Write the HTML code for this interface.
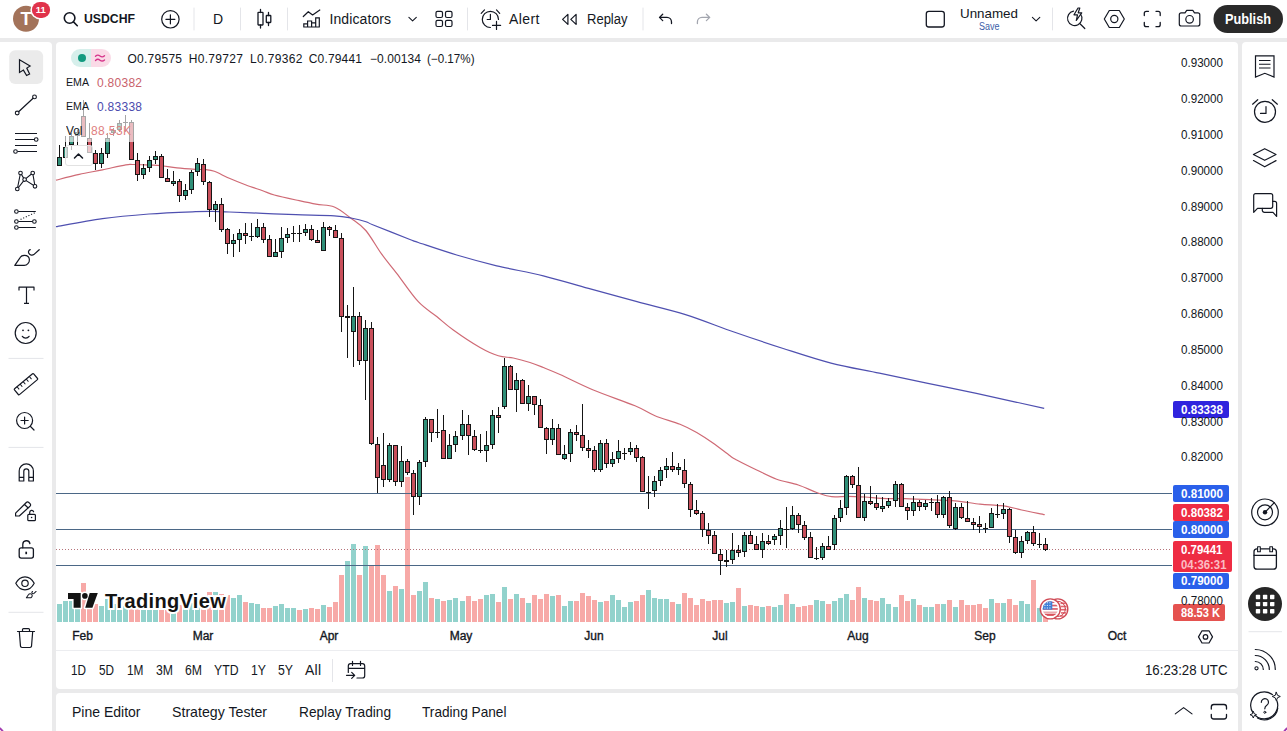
<!DOCTYPE html>
<html lang="en"><head><meta charset="utf-8"><title>USDCHF chart</title>
<style>
html,body{margin:0;padding:0}
body{width:1287px;height:731px;position:relative;overflow:hidden;background:#eaeaeb;font-family:"Liberation Sans",sans-serif;color:#131722}
.abs{position:absolute}
.panel{position:absolute;background:#fff}
.t{position:absolute;white-space:nowrap}
.sep{position:absolute;background:#e3e4e8}
.ic{position:absolute;overflow:visible}
.lg{position:absolute;background:rgba(255,255,255,.62);border-radius:3px}
.pl{position:absolute;border-radius:2px;color:#fff;font-weight:bold;font-size:12px}
</style></head><body>
<div class="panel" style="left:0;top:0;width:1287px;height:38px"></div>
<div class="panel" style="left:0;top:42px;width:52px;height:689px;border-radius:0 4px 0 0"></div>
<div class="panel" style="left:56px;top:42px;width:1182px;height:647px;border-radius:4px"></div>
<div class="panel" style="left:56px;top:693px;width:1182px;height:38px;border-radius:4px 4px 0 0"></div>
<div class="panel" style="left:1242px;top:42px;width:45px;height:689px;border-radius:4px 0 0 0"></div>

<svg class="abs" style="left:0;top:0" width="1287" height="731" viewBox="0 0 1287 731">
<g shape-rendering="crispEdges">
<rect x="57" y="604" width="5" height="18" fill="#92d2cc"/>
<rect x="63" y="601" width="5" height="21" fill="#92d2cc"/>
<rect x="69" y="601" width="5" height="21" fill="#92d2cc"/>
<rect x="75" y="606" width="5" height="16" fill="#92d2cc"/>
<rect x="81" y="583" width="5" height="39" fill="#f7a9a7"/>
<rect x="87" y="606" width="5" height="16" fill="#f7a9a7"/>
<rect x="93" y="604" width="5" height="18" fill="#f7a9a7"/>
<rect x="99" y="606" width="5" height="16" fill="#92d2cc"/>
<rect x="105" y="599" width="5" height="23" fill="#92d2cc"/>
<rect x="111" y="604" width="5" height="18" fill="#92d2cc"/>
<rect x="117" y="605" width="5" height="17" fill="#92d2cc"/>
<rect x="123" y="606" width="5" height="16" fill="#92d2cc"/>
<rect x="129" y="601" width="5" height="21" fill="#f7a9a7"/>
<rect x="135" y="603" width="5" height="19" fill="#f7a9a7"/>
<rect x="141" y="606" width="5" height="16" fill="#92d2cc"/>
<rect x="147" y="605" width="5" height="17" fill="#92d2cc"/>
<rect x="153" y="607" width="5" height="15" fill="#92d2cc"/>
<rect x="159" y="602" width="5" height="20" fill="#f7a9a7"/>
<rect x="165" y="605" width="5" height="17" fill="#f7a9a7"/>
<rect x="171" y="607" width="5" height="15" fill="#92d2cc"/>
<rect x="177" y="605" width="5" height="17" fill="#f7a9a7"/>
<rect x="183" y="606" width="5" height="16" fill="#92d2cc"/>
<rect x="189" y="603" width="5" height="19" fill="#92d2cc"/>
<rect x="195" y="604" width="5" height="18" fill="#92d2cc"/>
<rect x="201" y="603" width="5" height="19" fill="#f7a9a7"/>
<rect x="207" y="592" width="5" height="30" fill="#f7a9a7"/>
<rect x="213" y="592" width="5" height="30" fill="#92d2cc"/>
<rect x="219" y="594" width="5" height="28" fill="#f7a9a7"/>
<rect x="225" y="595" width="5" height="27" fill="#f7a9a7"/>
<rect x="231" y="598" width="5" height="24" fill="#92d2cc"/>
<rect x="237" y="595" width="5" height="27" fill="#92d2cc"/>
<rect x="243" y="602" width="5" height="20" fill="#f7a9a7"/>
<rect x="249" y="603" width="5" height="19" fill="#92d2cc"/>
<rect x="255" y="604" width="5" height="18" fill="#92d2cc"/>
<rect x="261" y="608" width="5" height="14" fill="#f7a9a7"/>
<rect x="267" y="608" width="5" height="14" fill="#f7a9a7"/>
<rect x="273" y="606" width="5" height="16" fill="#92d2cc"/>
<rect x="279" y="604" width="5" height="18" fill="#92d2cc"/>
<rect x="285" y="608" width="5" height="14" fill="#92d2cc"/>
<rect x="291" y="608" width="5" height="14" fill="#92d2cc"/>
<rect x="297" y="610" width="5" height="12" fill="#f7a9a7"/>
<rect x="303" y="609" width="5" height="13" fill="#92d2cc"/>
<rect x="309" y="608" width="5" height="14" fill="#f7a9a7"/>
<rect x="315" y="609" width="5" height="13" fill="#f7a9a7"/>
<rect x="321" y="605" width="5" height="17" fill="#92d2cc"/>
<rect x="327" y="607" width="5" height="15" fill="#f7a9a7"/>
<rect x="333" y="602" width="5" height="20" fill="#f7a9a7"/>
<rect x="339" y="575" width="5" height="47" fill="#f7a9a7"/>
<rect x="345" y="561" width="5" height="61" fill="#92d2cc"/>
<rect x="351" y="544" width="5" height="78" fill="#92d2cc"/>
<rect x="357" y="575" width="5" height="47" fill="#f7a9a7"/>
<rect x="363" y="546" width="5" height="76" fill="#92d2cc"/>
<rect x="369" y="566" width="5" height="56" fill="#f7a9a7"/>
<rect x="375" y="545" width="5" height="77" fill="#f7a9a7"/>
<rect x="381" y="575" width="5" height="47" fill="#f7a9a7"/>
<rect x="387" y="591" width="5" height="31" fill="#92d2cc"/>
<rect x="393" y="586" width="5" height="36" fill="#f7a9a7"/>
<rect x="399" y="589" width="5" height="33" fill="#92d2cc"/>
<rect x="405" y="477" width="5" height="145" fill="#f7a9a7"/>
<rect x="411" y="595" width="5" height="27" fill="#f7a9a7"/>
<rect x="417" y="591" width="5" height="31" fill="#92d2cc"/>
<rect x="423" y="582" width="5" height="40" fill="#92d2cc"/>
<rect x="429" y="598" width="5" height="24" fill="#f7a9a7"/>
<rect x="435" y="599" width="5" height="23" fill="#92d2cc"/>
<rect x="441" y="601" width="5" height="21" fill="#f7a9a7"/>
<rect x="447" y="600" width="5" height="22" fill="#92d2cc"/>
<rect x="453" y="598" width="5" height="24" fill="#92d2cc"/>
<rect x="460" y="601" width="5" height="21" fill="#92d2cc"/>
<rect x="466" y="596" width="5" height="26" fill="#f7a9a7"/>
<rect x="472" y="601" width="5" height="21" fill="#f7a9a7"/>
<rect x="478" y="599" width="5" height="23" fill="#f7a9a7"/>
<rect x="484" y="595" width="5" height="27" fill="#92d2cc"/>
<rect x="490" y="594" width="5" height="28" fill="#92d2cc"/>
<rect x="496" y="602" width="5" height="20" fill="#f7a9a7"/>
<rect x="502" y="587" width="5" height="35" fill="#92d2cc"/>
<rect x="508" y="599" width="5" height="23" fill="#f7a9a7"/>
<rect x="514" y="594" width="5" height="28" fill="#92d2cc"/>
<rect x="520" y="598" width="5" height="24" fill="#f7a9a7"/>
<rect x="526" y="603" width="5" height="19" fill="#92d2cc"/>
<rect x="532" y="595" width="5" height="27" fill="#f7a9a7"/>
<rect x="538" y="599" width="5" height="23" fill="#f7a9a7"/>
<rect x="544" y="594" width="5" height="28" fill="#f7a9a7"/>
<rect x="550" y="596" width="5" height="26" fill="#92d2cc"/>
<rect x="556" y="595" width="5" height="27" fill="#f7a9a7"/>
<rect x="562" y="606" width="5" height="16" fill="#92d2cc"/>
<rect x="568" y="601" width="5" height="21" fill="#92d2cc"/>
<rect x="574" y="601" width="5" height="21" fill="#f7a9a7"/>
<rect x="580" y="593" width="5" height="29" fill="#f7a9a7"/>
<rect x="586" y="596" width="5" height="26" fill="#f7a9a7"/>
<rect x="592" y="600" width="5" height="22" fill="#f7a9a7"/>
<rect x="598" y="602" width="5" height="20" fill="#92d2cc"/>
<rect x="604" y="601" width="5" height="21" fill="#f7a9a7"/>
<rect x="610" y="595" width="5" height="27" fill="#92d2cc"/>
<rect x="616" y="600" width="5" height="22" fill="#92d2cc"/>
<rect x="622" y="607" width="5" height="15" fill="#92d2cc"/>
<rect x="628" y="602" width="5" height="20" fill="#92d2cc"/>
<rect x="634" y="601" width="5" height="21" fill="#f7a9a7"/>
<rect x="640" y="595" width="5" height="27" fill="#f7a9a7"/>
<rect x="646" y="590" width="5" height="32" fill="#92d2cc"/>
<rect x="652" y="598" width="5" height="24" fill="#92d2cc"/>
<rect x="658" y="599" width="5" height="23" fill="#92d2cc"/>
<rect x="664" y="599" width="5" height="23" fill="#92d2cc"/>
<rect x="670" y="602" width="5" height="20" fill="#f7a9a7"/>
<rect x="676" y="604" width="5" height="18" fill="#92d2cc"/>
<rect x="682" y="593" width="5" height="29" fill="#f7a9a7"/>
<rect x="688" y="598" width="5" height="24" fill="#f7a9a7"/>
<rect x="694" y="605" width="5" height="17" fill="#f7a9a7"/>
<rect x="700" y="599" width="5" height="23" fill="#f7a9a7"/>
<rect x="706" y="601" width="5" height="21" fill="#f7a9a7"/>
<rect x="712" y="600" width="5" height="22" fill="#f7a9a7"/>
<rect x="718" y="600" width="5" height="22" fill="#f7a9a7"/>
<rect x="724" y="603" width="5" height="19" fill="#92d2cc"/>
<rect x="730" y="602" width="5" height="20" fill="#92d2cc"/>
<rect x="736" y="588" width="5" height="34" fill="#f7a9a7"/>
<rect x="742" y="606" width="5" height="16" fill="#92d2cc"/>
<rect x="748" y="605" width="5" height="17" fill="#f7a9a7"/>
<rect x="754" y="606" width="5" height="16" fill="#f7a9a7"/>
<rect x="760" y="607" width="5" height="15" fill="#92d2cc"/>
<rect x="766" y="606" width="5" height="16" fill="#f7a9a7"/>
<rect x="772" y="607" width="5" height="15" fill="#92d2cc"/>
<rect x="778" y="605" width="5" height="17" fill="#92d2cc"/>
<rect x="784" y="594" width="5" height="28" fill="#f7a9a7"/>
<rect x="790" y="604" width="5" height="18" fill="#92d2cc"/>
<rect x="796" y="607" width="5" height="15" fill="#f7a9a7"/>
<rect x="802" y="606" width="5" height="16" fill="#f7a9a7"/>
<rect x="808" y="605" width="5" height="17" fill="#f7a9a7"/>
<rect x="814" y="600" width="5" height="22" fill="#92d2cc"/>
<rect x="820" y="601" width="5" height="21" fill="#92d2cc"/>
<rect x="826" y="604" width="5" height="18" fill="#f7a9a7"/>
<rect x="832" y="601" width="5" height="21" fill="#92d2cc"/>
<rect x="838" y="598" width="5" height="24" fill="#92d2cc"/>
<rect x="844" y="594" width="5" height="28" fill="#92d2cc"/>
<rect x="850" y="600" width="5" height="22" fill="#f7a9a7"/>
<rect x="856" y="587" width="5" height="35" fill="#f7a9a7"/>
<rect x="862" y="598" width="5" height="24" fill="#92d2cc"/>
<rect x="868" y="600" width="5" height="22" fill="#f7a9a7"/>
<rect x="874" y="601" width="5" height="21" fill="#f7a9a7"/>
<rect x="880" y="598" width="5" height="24" fill="#92d2cc"/>
<rect x="886" y="604" width="5" height="18" fill="#92d2cc"/>
<rect x="893" y="607" width="5" height="15" fill="#92d2cc"/>
<rect x="899" y="595" width="5" height="27" fill="#f7a9a7"/>
<rect x="905" y="601" width="5" height="21" fill="#f7a9a7"/>
<rect x="911" y="599" width="5" height="23" fill="#92d2cc"/>
<rect x="917" y="605" width="5" height="17" fill="#f7a9a7"/>
<rect x="923" y="607" width="5" height="15" fill="#92d2cc"/>
<rect x="929" y="607" width="5" height="15" fill="#92d2cc"/>
<rect x="935" y="604" width="5" height="18" fill="#f7a9a7"/>
<rect x="941" y="604" width="5" height="18" fill="#92d2cc"/>
<rect x="947" y="600" width="5" height="22" fill="#f7a9a7"/>
<rect x="953" y="607" width="5" height="15" fill="#92d2cc"/>
<rect x="959" y="600" width="5" height="22" fill="#f7a9a7"/>
<rect x="965" y="605" width="5" height="17" fill="#f7a9a7"/>
<rect x="971" y="605" width="5" height="17" fill="#f7a9a7"/>
<rect x="977" y="604" width="5" height="18" fill="#f7a9a7"/>
<rect x="983" y="608" width="5" height="14" fill="#f7a9a7"/>
<rect x="989" y="599" width="5" height="23" fill="#92d2cc"/>
<rect x="995" y="603" width="5" height="19" fill="#f7a9a7"/>
<rect x="1001" y="603" width="5" height="19" fill="#92d2cc"/>
<rect x="1007" y="599" width="5" height="23" fill="#f7a9a7"/>
<rect x="1013" y="605" width="5" height="17" fill="#f7a9a7"/>
<rect x="1019" y="601" width="5" height="21" fill="#92d2cc"/>
<rect x="1025" y="604" width="5" height="18" fill="#92d2cc"/>
<rect x="1031" y="580" width="5" height="42" fill="#f7a9a7"/>
<rect x="1037" y="608" width="5" height="14" fill="#92d2cc"/>
<rect x="1043" y="615" width="5" height="7" fill="#f7a9a7"/>
</g>
<g shape-rendering="crispEdges" fill="#4b6786">
<rect x="56" y="493" width="1116" height="1"/>
<rect x="56" y="529" width="1116" height="1"/>
<rect x="56" y="565" width="1116" height="1"/>
</g>
<line x1="56" y1="549.5" x2="1172" y2="549.5" stroke="#b5737a" stroke-width="1" stroke-dasharray="1 2" shape-rendering="crispEdges"/>
<path d="M56.0 180.2 C59.9 179.2 71.5 176.1 79.3 174.4 C87.0 172.7 94.8 171.4 102.5 169.8 C110.2 168.2 120.8 165.8 125.8 164.9 C130.8 164.0 128.8 164.5 132.7 164.5 C136.6 164.5 144.3 164.9 149.0 165.1 C153.7 165.3 156.0 165.1 160.7 165.6 C165.4 166.1 171.2 167.3 177.0 167.9 C182.8 168.5 190.7 169.0 195.5 169.3 C200.3 169.6 202.9 169.4 206.0 169.7 C209.1 170.0 210.4 169.9 214.3 171.3 C218.2 172.7 224.0 176.0 229.3 178.3 C234.6 180.6 240.4 182.9 246.0 185.0 C251.6 187.1 258.0 189.1 262.7 190.8 C267.4 192.5 268.8 193.5 274.3 195.0 C279.9 196.5 289.1 198.5 296.0 200.0 C302.9 201.5 309.6 203.0 316.0 204.2 C322.4 205.4 328.5 204.7 334.3 207.0 C340.1 209.3 345.8 214.4 351.0 218.3 C356.2 222.2 360.7 224.5 365.8 230.5 C370.9 236.5 376.6 247.1 381.7 254.2 C386.8 261.3 390.6 265.4 396.7 273.3 C402.8 281.2 411.6 294.5 418.3 301.7 C425.0 308.9 430.9 311.8 436.7 316.5 C442.5 321.2 446.1 324.8 453.3 330.0 C460.5 335.2 472.5 343.2 480.0 347.5 C487.5 351.8 492.8 354.1 498.3 355.8 C503.9 357.6 508.0 356.9 513.3 358.0 C518.6 359.1 525.0 360.9 530.0 362.5 C535.0 364.1 538.3 365.5 543.3 367.5 C548.3 369.5 551.7 370.8 560.0 374.5 C568.3 378.2 580.8 384.8 593.3 390.0 C605.8 395.2 624.7 401.5 635.0 405.8 C645.3 410.1 647.5 412.7 655.0 415.8 C662.5 418.9 673.0 421.4 680.0 424.2 C687.0 427.0 691.2 429.3 696.7 432.5 C702.2 435.7 707.8 439.4 713.3 443.3 C718.8 447.2 726.1 453.0 730.0 455.8 C733.9 458.6 732.2 457.6 736.7 460.0 C741.2 462.4 750.0 466.8 756.7 470.0 C763.4 473.2 769.8 476.7 776.7 479.2 C783.6 481.7 791.6 482.8 798.3 485.0 C805.0 487.2 811.1 490.6 816.7 492.5 C822.3 494.4 826.4 496.1 831.7 496.7 C837.0 497.3 842.8 496.2 848.3 496.3 C853.8 496.4 859.4 496.7 865.0 497.0 C870.6 497.3 875.0 498.0 881.7 498.3 C888.4 498.6 897.0 498.5 905.0 498.7 C913.0 498.9 921.7 499.3 930.0 499.7 C938.3 500.1 946.7 500.1 955.0 500.8 C963.3 501.6 973.0 503.4 980.0 504.2 C987.0 504.9 992.2 504.9 996.7 505.3 C1001.2 505.7 1002.5 505.5 1006.7 506.3 C1010.9 507.1 1015.4 508.6 1021.7 510.0 C1028.0 511.4 1040.9 513.9 1044.7 514.7" fill="none" stroke="#cf6a75" stroke-width="1.2" stroke-linejoin="round"/>
<path d="M56.0 226.7 C63.8 225.3 87.0 220.7 102.5 218.6 C118.0 216.5 133.5 215.2 149.0 214.0 C164.5 212.8 184.9 212.1 195.5 211.7 C206.1 211.2 207.1 211.2 212.7 211.3 C218.3 211.4 221.0 211.7 229.3 212.0 C237.6 212.3 251.6 212.9 262.7 213.3 C273.8 213.8 284.1 214.3 296.0 214.7 C307.9 215.1 325.1 215.2 334.3 215.8 C343.5 216.4 345.7 217.0 351.0 218.0 C356.3 219.0 362.3 220.5 366.0 221.7 C369.7 222.9 366.1 222.1 373.3 225.0 C380.5 227.9 401.8 236.3 409.3 239.2 C416.8 242.1 410.4 239.9 418.3 242.5 C426.2 245.1 443.6 251.1 456.7 255.0 C469.8 258.9 482.3 262.3 496.7 265.8 C511.1 269.3 528.0 272.0 543.3 275.8 C558.6 279.6 572.9 284.1 588.5 288.4 C604.1 292.7 620.8 297.3 637.0 301.7 C653.2 306.1 669.3 309.6 685.5 314.6 C701.7 319.7 717.9 326.4 734.0 332.0 C750.1 337.6 766.2 343.0 782.4 348.2 C798.6 353.4 814.8 358.9 831.0 363.1 C847.2 367.3 863.2 369.8 879.4 373.2 C895.5 376.6 911.7 379.9 927.9 383.3 C944.1 386.7 961.6 390.2 976.4 393.4 C991.2 396.6 1005.5 399.8 1016.8 402.3 C1028.1 404.8 1039.6 407.4 1044.2 408.4" fill="none" stroke="#4f50b0" stroke-width="1.2" stroke-linejoin="round"/>
<g shape-rendering="crispEdges">
<rect x="59" y="145" width="1" height="21" fill="#151515"/>
<rect x="57" y="157" width="5" height="9" fill="#151515"/>
<rect x="58" y="158" width="3" height="7" fill="#2f8f78"/>
<rect x="65" y="136" width="1" height="22" fill="#151515"/>
<rect x="63" y="147" width="5" height="11" fill="#151515"/>
<rect x="64" y="148" width="3" height="9" fill="#2f8f78"/>
<rect x="71" y="133" width="1" height="17" fill="#151515"/>
<rect x="69" y="136" width="5" height="9" fill="#151515"/>
<rect x="70" y="137" width="3" height="7" fill="#2f8f78"/>
<rect x="77" y="130" width="1" height="15" fill="#151515"/>
<rect x="75" y="132" width="5" height="4" fill="#151515"/>
<rect x="76" y="133" width="3" height="2" fill="#2f8f78"/>
<rect x="83" y="100" width="1" height="37" fill="#151515"/>
<rect x="81" y="116" width="5" height="21" fill="#151515"/>
<rect x="82" y="117" width="3" height="19" fill="#c94f5b"/>
<rect x="89" y="123" width="1" height="30" fill="#151515"/>
<rect x="87" y="138" width="5" height="15" fill="#151515"/>
<rect x="88" y="139" width="3" height="13" fill="#c94f5b"/>
<rect x="95" y="150" width="1" height="20" fill="#151515"/>
<rect x="93" y="153" width="5" height="11" fill="#151515"/>
<rect x="94" y="154" width="3" height="9" fill="#c94f5b"/>
<rect x="101" y="148" width="1" height="20" fill="#151515"/>
<rect x="99" y="153" width="5" height="11" fill="#151515"/>
<rect x="100" y="154" width="3" height="9" fill="#2f8f78"/>
<rect x="107" y="133" width="1" height="25" fill="#151515"/>
<rect x="105" y="138" width="5" height="16" fill="#151515"/>
<rect x="106" y="139" width="3" height="14" fill="#2f8f78"/>
<rect x="113" y="128" width="1" height="8" fill="#151515"/>
<rect x="111" y="130" width="5" height="3" fill="#151515"/>
<rect x="112" y="131" width="3" height="1" fill="#2f8f78"/>
<rect x="119" y="120" width="1" height="12" fill="#151515"/>
<rect x="117" y="123" width="5" height="7" fill="#151515"/>
<rect x="118" y="124" width="3" height="5" fill="#2f8f78"/>
<rect x="125" y="115" width="1" height="17" fill="#151515"/>
<rect x="123" y="122" width="5" height="1" fill="#151515"/>
<rect x="131" y="120" width="1" height="40" fill="#151515"/>
<rect x="129" y="122" width="5" height="38" fill="#151515"/>
<rect x="130" y="123" width="3" height="36" fill="#c94f5b"/>
<rect x="137" y="153" width="1" height="28" fill="#151515"/>
<rect x="135" y="160" width="5" height="15" fill="#151515"/>
<rect x="136" y="161" width="3" height="13" fill="#c94f5b"/>
<rect x="143" y="164" width="1" height="15" fill="#151515"/>
<rect x="141" y="168" width="5" height="7" fill="#151515"/>
<rect x="142" y="169" width="3" height="5" fill="#2f8f78"/>
<rect x="149" y="156" width="1" height="16" fill="#151515"/>
<rect x="147" y="160" width="5" height="8" fill="#151515"/>
<rect x="148" y="161" width="3" height="6" fill="#2f8f78"/>
<rect x="155" y="151" width="1" height="13" fill="#151515"/>
<rect x="153" y="156" width="5" height="4" fill="#151515"/>
<rect x="154" y="157" width="3" height="2" fill="#2f8f78"/>
<rect x="161" y="154" width="1" height="24" fill="#151515"/>
<rect x="159" y="156" width="5" height="22" fill="#151515"/>
<rect x="160" y="157" width="3" height="20" fill="#c94f5b"/>
<rect x="167" y="169" width="1" height="13" fill="#151515"/>
<rect x="165" y="178" width="5" height="4" fill="#151515"/>
<rect x="166" y="179" width="3" height="2" fill="#c94f5b"/>
<rect x="173" y="171" width="1" height="15" fill="#151515"/>
<rect x="171" y="181" width="5" height="3" fill="#151515"/>
<rect x="172" y="182" width="3" height="1" fill="#2f8f78"/>
<rect x="179" y="179" width="1" height="23" fill="#151515"/>
<rect x="177" y="181" width="5" height="15" fill="#151515"/>
<rect x="178" y="182" width="3" height="13" fill="#c94f5b"/>
<rect x="185" y="184" width="1" height="16" fill="#151515"/>
<rect x="183" y="190" width="5" height="6" fill="#151515"/>
<rect x="184" y="191" width="3" height="4" fill="#2f8f78"/>
<rect x="191" y="170" width="1" height="24" fill="#151515"/>
<rect x="189" y="172" width="5" height="18" fill="#151515"/>
<rect x="190" y="173" width="3" height="16" fill="#2f8f78"/>
<rect x="197" y="158" width="1" height="18" fill="#151515"/>
<rect x="195" y="163" width="5" height="9" fill="#151515"/>
<rect x="196" y="164" width="3" height="7" fill="#2f8f78"/>
<rect x="203" y="159" width="1" height="26" fill="#151515"/>
<rect x="201" y="164" width="5" height="18" fill="#151515"/>
<rect x="202" y="165" width="3" height="16" fill="#c94f5b"/>
<rect x="209" y="181" width="1" height="36" fill="#151515"/>
<rect x="207" y="182" width="5" height="28" fill="#151515"/>
<rect x="208" y="183" width="3" height="26" fill="#c94f5b"/>
<rect x="215" y="201" width="1" height="21" fill="#151515"/>
<rect x="213" y="204" width="5" height="6" fill="#151515"/>
<rect x="214" y="205" width="3" height="4" fill="#2f8f78"/>
<rect x="221" y="198" width="1" height="34" fill="#151515"/>
<rect x="219" y="204" width="5" height="26" fill="#151515"/>
<rect x="220" y="205" width="3" height="24" fill="#c94f5b"/>
<rect x="227" y="228" width="1" height="26" fill="#151515"/>
<rect x="225" y="229" width="5" height="15" fill="#151515"/>
<rect x="226" y="230" width="3" height="13" fill="#c94f5b"/>
<rect x="233" y="234" width="1" height="23" fill="#151515"/>
<rect x="231" y="240" width="5" height="4" fill="#151515"/>
<rect x="232" y="241" width="3" height="2" fill="#2f8f78"/>
<rect x="239" y="229" width="1" height="23" fill="#151515"/>
<rect x="237" y="233" width="5" height="7" fill="#151515"/>
<rect x="238" y="234" width="3" height="5" fill="#2f8f78"/>
<rect x="245" y="223" width="1" height="21" fill="#151515"/>
<rect x="243" y="233" width="5" height="3" fill="#151515"/>
<rect x="244" y="234" width="3" height="1" fill="#c94f5b"/>
<rect x="251" y="223" width="1" height="18" fill="#151515"/>
<rect x="249" y="236" width="5" height="1" fill="#151515"/>
<rect x="257" y="219" width="1" height="19" fill="#151515"/>
<rect x="255" y="227" width="5" height="10" fill="#151515"/>
<rect x="256" y="228" width="3" height="8" fill="#2f8f78"/>
<rect x="263" y="223" width="1" height="20" fill="#151515"/>
<rect x="261" y="227" width="5" height="13" fill="#151515"/>
<rect x="262" y="228" width="3" height="11" fill="#c94f5b"/>
<rect x="269" y="235" width="1" height="22" fill="#151515"/>
<rect x="267" y="239" width="5" height="18" fill="#151515"/>
<rect x="268" y="240" width="3" height="16" fill="#c94f5b"/>
<rect x="275" y="239" width="1" height="18" fill="#151515"/>
<rect x="273" y="252" width="5" height="5" fill="#151515"/>
<rect x="274" y="253" width="3" height="3" fill="#2f8f78"/>
<rect x="281" y="227" width="1" height="31" fill="#151515"/>
<rect x="279" y="238" width="5" height="14" fill="#151515"/>
<rect x="280" y="239" width="3" height="12" fill="#2f8f78"/>
<rect x="287" y="228" width="1" height="15" fill="#151515"/>
<rect x="285" y="234" width="5" height="4" fill="#151515"/>
<rect x="286" y="235" width="3" height="2" fill="#2f8f78"/>
<rect x="293" y="226" width="1" height="16" fill="#151515"/>
<rect x="291" y="233" width="5" height="1" fill="#151515"/>
<rect x="299" y="225" width="1" height="17" fill="#151515"/>
<rect x="297" y="233" width="5" height="1" fill="#151515"/>
<rect x="305" y="224" width="1" height="12" fill="#151515"/>
<rect x="303" y="229" width="5" height="4" fill="#151515"/>
<rect x="304" y="230" width="3" height="2" fill="#2f8f78"/>
<rect x="311" y="225" width="1" height="16" fill="#151515"/>
<rect x="309" y="229" width="5" height="11" fill="#151515"/>
<rect x="310" y="230" width="3" height="9" fill="#c94f5b"/>
<rect x="317" y="230" width="1" height="13" fill="#151515"/>
<rect x="315" y="240" width="5" height="3" fill="#151515"/>
<rect x="316" y="241" width="3" height="1" fill="#c94f5b"/>
<rect x="323" y="222" width="1" height="29" fill="#151515"/>
<rect x="321" y="227" width="5" height="24" fill="#151515"/>
<rect x="322" y="228" width="3" height="22" fill="#2f8f78"/>
<rect x="329" y="226" width="1" height="10" fill="#151515"/>
<rect x="327" y="227" width="5" height="3" fill="#151515"/>
<rect x="328" y="228" width="3" height="1" fill="#c94f5b"/>
<rect x="335" y="225" width="1" height="13" fill="#151515"/>
<rect x="333" y="230" width="5" height="8" fill="#151515"/>
<rect x="334" y="231" width="3" height="6" fill="#c94f5b"/>
<rect x="341" y="233" width="1" height="99" fill="#151515"/>
<rect x="339" y="238" width="5" height="79" fill="#151515"/>
<rect x="340" y="239" width="3" height="77" fill="#c94f5b"/>
<rect x="347" y="305" width="1" height="53" fill="#151515"/>
<rect x="345" y="316" width="5" height="2" fill="#151515"/>
<rect x="353" y="287" width="1" height="80" fill="#151515"/>
<rect x="351" y="316" width="5" height="16" fill="#151515"/>
<rect x="352" y="317" width="3" height="14" fill="#2f8f78"/>
<rect x="359" y="312" width="1" height="53" fill="#151515"/>
<rect x="357" y="316" width="5" height="45" fill="#151515"/>
<rect x="358" y="317" width="3" height="43" fill="#c94f5b"/>
<rect x="365" y="320" width="1" height="80" fill="#151515"/>
<rect x="363" y="328" width="5" height="33" fill="#151515"/>
<rect x="364" y="329" width="3" height="31" fill="#2f8f78"/>
<rect x="371" y="322" width="1" height="123" fill="#151515"/>
<rect x="369" y="328" width="5" height="116" fill="#151515"/>
<rect x="370" y="329" width="3" height="114" fill="#c94f5b"/>
<rect x="377" y="437" width="1" height="56" fill="#151515"/>
<rect x="375" y="444" width="5" height="34" fill="#151515"/>
<rect x="376" y="445" width="3" height="32" fill="#c94f5b"/>
<rect x="383" y="433" width="1" height="54" fill="#151515"/>
<rect x="381" y="465" width="5" height="15" fill="#151515"/>
<rect x="382" y="466" width="3" height="13" fill="#c94f5b"/>
<rect x="389" y="443" width="1" height="39" fill="#151515"/>
<rect x="387" y="445" width="5" height="35" fill="#151515"/>
<rect x="388" y="446" width="3" height="33" fill="#2f8f78"/>
<rect x="395" y="445" width="1" height="41" fill="#151515"/>
<rect x="393" y="445" width="5" height="37" fill="#151515"/>
<rect x="394" y="446" width="3" height="35" fill="#c94f5b"/>
<rect x="401" y="446" width="1" height="41" fill="#151515"/>
<rect x="399" y="461" width="5" height="21" fill="#151515"/>
<rect x="400" y="462" width="3" height="19" fill="#2f8f78"/>
<rect x="407" y="459" width="1" height="16" fill="#151515"/>
<rect x="405" y="461" width="5" height="12" fill="#151515"/>
<rect x="406" y="462" width="3" height="10" fill="#c94f5b"/>
<rect x="413" y="470" width="1" height="45" fill="#151515"/>
<rect x="411" y="473" width="5" height="24" fill="#151515"/>
<rect x="412" y="474" width="3" height="22" fill="#c94f5b"/>
<rect x="419" y="460" width="1" height="45" fill="#151515"/>
<rect x="417" y="462" width="5" height="35" fill="#151515"/>
<rect x="418" y="463" width="3" height="33" fill="#2f8f78"/>
<rect x="425" y="417" width="1" height="50" fill="#151515"/>
<rect x="423" y="419" width="5" height="43" fill="#151515"/>
<rect x="424" y="420" width="3" height="41" fill="#2f8f78"/>
<rect x="431" y="419" width="1" height="23" fill="#151515"/>
<rect x="429" y="419" width="5" height="14" fill="#151515"/>
<rect x="430" y="420" width="3" height="12" fill="#c94f5b"/>
<rect x="437" y="409" width="1" height="29" fill="#151515"/>
<rect x="435" y="432" width="5" height="1" fill="#151515"/>
<rect x="443" y="415" width="1" height="44" fill="#151515"/>
<rect x="441" y="430" width="5" height="29" fill="#151515"/>
<rect x="442" y="431" width="3" height="27" fill="#c94f5b"/>
<rect x="449" y="434" width="1" height="25" fill="#151515"/>
<rect x="447" y="445" width="5" height="14" fill="#151515"/>
<rect x="448" y="446" width="3" height="12" fill="#2f8f78"/>
<rect x="455" y="431" width="1" height="21" fill="#151515"/>
<rect x="453" y="436" width="5" height="9" fill="#151515"/>
<rect x="454" y="437" width="3" height="7" fill="#2f8f78"/>
<rect x="462" y="410" width="1" height="30" fill="#151515"/>
<rect x="460" y="424" width="5" height="12" fill="#151515"/>
<rect x="461" y="425" width="3" height="10" fill="#2f8f78"/>
<rect x="468" y="415" width="1" height="40" fill="#151515"/>
<rect x="466" y="424" width="5" height="12" fill="#151515"/>
<rect x="467" y="425" width="3" height="10" fill="#c94f5b"/>
<rect x="474" y="430" width="1" height="21" fill="#151515"/>
<rect x="472" y="436" width="5" height="14" fill="#151515"/>
<rect x="473" y="437" width="3" height="12" fill="#c94f5b"/>
<rect x="480" y="434" width="1" height="19" fill="#151515"/>
<rect x="478" y="450" width="5" height="1" fill="#151515"/>
<rect x="486" y="431" width="1" height="31" fill="#151515"/>
<rect x="484" y="445" width="5" height="6" fill="#151515"/>
<rect x="485" y="446" width="3" height="4" fill="#2f8f78"/>
<rect x="492" y="410" width="1" height="39" fill="#151515"/>
<rect x="490" y="415" width="5" height="30" fill="#151515"/>
<rect x="491" y="416" width="3" height="28" fill="#2f8f78"/>
<rect x="498" y="407" width="1" height="26" fill="#151515"/>
<rect x="496" y="415" width="5" height="3" fill="#151515"/>
<rect x="497" y="416" width="3" height="1" fill="#c94f5b"/>
<rect x="504" y="358" width="1" height="51" fill="#151515"/>
<rect x="502" y="366" width="5" height="41" fill="#151515"/>
<rect x="503" y="367" width="3" height="39" fill="#2f8f78"/>
<rect x="510" y="365" width="1" height="25" fill="#151515"/>
<rect x="508" y="366" width="5" height="24" fill="#151515"/>
<rect x="509" y="367" width="3" height="22" fill="#c94f5b"/>
<rect x="516" y="373" width="1" height="39" fill="#151515"/>
<rect x="514" y="380" width="5" height="10" fill="#151515"/>
<rect x="515" y="381" width="3" height="8" fill="#2f8f78"/>
<rect x="522" y="379" width="1" height="25" fill="#151515"/>
<rect x="520" y="380" width="5" height="24" fill="#151515"/>
<rect x="521" y="381" width="3" height="22" fill="#c94f5b"/>
<rect x="528" y="385" width="1" height="26" fill="#151515"/>
<rect x="526" y="396" width="5" height="8" fill="#151515"/>
<rect x="527" y="397" width="3" height="6" fill="#2f8f78"/>
<rect x="534" y="396" width="1" height="19" fill="#151515"/>
<rect x="532" y="396" width="5" height="9" fill="#151515"/>
<rect x="533" y="397" width="3" height="7" fill="#c94f5b"/>
<rect x="540" y="399" width="1" height="29" fill="#151515"/>
<rect x="538" y="405" width="5" height="23" fill="#151515"/>
<rect x="539" y="406" width="3" height="21" fill="#c94f5b"/>
<rect x="546" y="427" width="1" height="27" fill="#151515"/>
<rect x="544" y="428" width="5" height="12" fill="#151515"/>
<rect x="545" y="429" width="3" height="10" fill="#c94f5b"/>
<rect x="552" y="419" width="1" height="26" fill="#151515"/>
<rect x="550" y="428" width="5" height="12" fill="#151515"/>
<rect x="551" y="429" width="3" height="10" fill="#2f8f78"/>
<rect x="558" y="424" width="1" height="31" fill="#151515"/>
<rect x="556" y="428" width="5" height="27" fill="#151515"/>
<rect x="557" y="429" width="3" height="25" fill="#c94f5b"/>
<rect x="564" y="445" width="1" height="15" fill="#151515"/>
<rect x="562" y="454" width="5" height="5" fill="#151515"/>
<rect x="563" y="455" width="3" height="3" fill="#2f8f78"/>
<rect x="570" y="429" width="1" height="33" fill="#151515"/>
<rect x="568" y="432" width="5" height="22" fill="#151515"/>
<rect x="569" y="433" width="3" height="20" fill="#2f8f78"/>
<rect x="576" y="425" width="1" height="16" fill="#151515"/>
<rect x="574" y="432" width="5" height="3" fill="#151515"/>
<rect x="575" y="433" width="3" height="1" fill="#c94f5b"/>
<rect x="582" y="404" width="1" height="47" fill="#151515"/>
<rect x="580" y="435" width="5" height="13" fill="#151515"/>
<rect x="581" y="436" width="3" height="11" fill="#c94f5b"/>
<rect x="588" y="440" width="1" height="18" fill="#151515"/>
<rect x="586" y="448" width="5" height="3" fill="#151515"/>
<rect x="587" y="449" width="3" height="1" fill="#c94f5b"/>
<rect x="594" y="446" width="1" height="26" fill="#151515"/>
<rect x="592" y="450" width="5" height="20" fill="#151515"/>
<rect x="593" y="451" width="3" height="18" fill="#c94f5b"/>
<rect x="600" y="440" width="1" height="32" fill="#151515"/>
<rect x="598" y="443" width="5" height="27" fill="#151515"/>
<rect x="599" y="444" width="3" height="25" fill="#2f8f78"/>
<rect x="606" y="439" width="1" height="29" fill="#151515"/>
<rect x="604" y="443" width="5" height="21" fill="#151515"/>
<rect x="605" y="444" width="3" height="19" fill="#c94f5b"/>
<rect x="612" y="452" width="1" height="15" fill="#151515"/>
<rect x="610" y="459" width="5" height="5" fill="#151515"/>
<rect x="611" y="460" width="3" height="3" fill="#2f8f78"/>
<rect x="618" y="440" width="1" height="23" fill="#151515"/>
<rect x="616" y="451" width="5" height="8" fill="#151515"/>
<rect x="617" y="452" width="3" height="6" fill="#2f8f78"/>
<rect x="624" y="448" width="1" height="12" fill="#151515"/>
<rect x="622" y="453" width="5" height="1" fill="#151515"/>
<rect x="630" y="442" width="1" height="13" fill="#151515"/>
<rect x="628" y="448" width="5" height="4" fill="#151515"/>
<rect x="629" y="449" width="3" height="2" fill="#2f8f78"/>
<rect x="636" y="445" width="1" height="17" fill="#151515"/>
<rect x="634" y="448" width="5" height="10" fill="#151515"/>
<rect x="635" y="449" width="3" height="8" fill="#c94f5b"/>
<rect x="642" y="456" width="1" height="36" fill="#151515"/>
<rect x="640" y="457" width="5" height="35" fill="#151515"/>
<rect x="641" y="458" width="3" height="33" fill="#c94f5b"/>
<rect x="648" y="476" width="1" height="33" fill="#151515"/>
<rect x="646" y="492" width="5" height="1" fill="#151515"/>
<rect x="654" y="476" width="1" height="21" fill="#151515"/>
<rect x="652" y="481" width="5" height="10" fill="#151515"/>
<rect x="653" y="482" width="3" height="8" fill="#2f8f78"/>
<rect x="660" y="467" width="1" height="19" fill="#151515"/>
<rect x="658" y="470" width="5" height="11" fill="#151515"/>
<rect x="659" y="471" width="3" height="9" fill="#2f8f78"/>
<rect x="666" y="458" width="1" height="20" fill="#151515"/>
<rect x="664" y="466" width="5" height="4" fill="#151515"/>
<rect x="665" y="467" width="3" height="2" fill="#2f8f78"/>
<rect x="672" y="452" width="1" height="20" fill="#151515"/>
<rect x="670" y="466" width="5" height="4" fill="#151515"/>
<rect x="671" y="467" width="3" height="2" fill="#c94f5b"/>
<rect x="678" y="463" width="1" height="12" fill="#151515"/>
<rect x="676" y="467" width="5" height="3" fill="#151515"/>
<rect x="677" y="468" width="3" height="1" fill="#2f8f78"/>
<rect x="684" y="459" width="1" height="29" fill="#151515"/>
<rect x="682" y="470" width="5" height="14" fill="#151515"/>
<rect x="683" y="471" width="3" height="12" fill="#c94f5b"/>
<rect x="690" y="482" width="1" height="35" fill="#151515"/>
<rect x="688" y="484" width="5" height="26" fill="#151515"/>
<rect x="689" y="485" width="3" height="24" fill="#c94f5b"/>
<rect x="696" y="500" width="1" height="15" fill="#151515"/>
<rect x="694" y="510" width="5" height="4" fill="#151515"/>
<rect x="695" y="511" width="3" height="2" fill="#c94f5b"/>
<rect x="702" y="511" width="1" height="26" fill="#151515"/>
<rect x="700" y="513" width="5" height="17" fill="#151515"/>
<rect x="701" y="514" width="3" height="15" fill="#c94f5b"/>
<rect x="708" y="523" width="1" height="21" fill="#151515"/>
<rect x="706" y="530" width="5" height="6" fill="#151515"/>
<rect x="707" y="531" width="3" height="4" fill="#c94f5b"/>
<rect x="714" y="531" width="1" height="23" fill="#151515"/>
<rect x="712" y="535" width="5" height="19" fill="#151515"/>
<rect x="713" y="536" width="3" height="17" fill="#c94f5b"/>
<rect x="720" y="549" width="1" height="26" fill="#151515"/>
<rect x="718" y="554" width="5" height="7" fill="#151515"/>
<rect x="719" y="555" width="3" height="5" fill="#c94f5b"/>
<rect x="726" y="550" width="1" height="17" fill="#151515"/>
<rect x="724" y="560" width="5" height="2" fill="#151515"/>
<rect x="732" y="533" width="1" height="31" fill="#151515"/>
<rect x="730" y="550" width="5" height="10" fill="#151515"/>
<rect x="731" y="551" width="3" height="8" fill="#2f8f78"/>
<rect x="738" y="545" width="1" height="12" fill="#151515"/>
<rect x="736" y="550" width="5" height="3" fill="#151515"/>
<rect x="737" y="551" width="3" height="1" fill="#c94f5b"/>
<rect x="744" y="532" width="1" height="25" fill="#151515"/>
<rect x="742" y="535" width="5" height="17" fill="#151515"/>
<rect x="743" y="536" width="3" height="15" fill="#2f8f78"/>
<rect x="750" y="531" width="1" height="13" fill="#151515"/>
<rect x="748" y="535" width="5" height="9" fill="#151515"/>
<rect x="749" y="536" width="3" height="7" fill="#c94f5b"/>
<rect x="756" y="536" width="1" height="14" fill="#151515"/>
<rect x="754" y="544" width="5" height="6" fill="#151515"/>
<rect x="755" y="545" width="3" height="4" fill="#c94f5b"/>
<rect x="762" y="533" width="1" height="25" fill="#151515"/>
<rect x="760" y="541" width="5" height="9" fill="#151515"/>
<rect x="761" y="542" width="3" height="7" fill="#2f8f78"/>
<rect x="768" y="535" width="1" height="10" fill="#151515"/>
<rect x="766" y="541" width="5" height="3" fill="#151515"/>
<rect x="767" y="542" width="3" height="1" fill="#c94f5b"/>
<rect x="774" y="534" width="1" height="11" fill="#151515"/>
<rect x="772" y="536" width="5" height="4" fill="#151515"/>
<rect x="773" y="537" width="3" height="2" fill="#2f8f78"/>
<rect x="780" y="520" width="1" height="25" fill="#151515"/>
<rect x="778" y="528" width="5" height="8" fill="#151515"/>
<rect x="779" y="529" width="3" height="6" fill="#2f8f78"/>
<rect x="786" y="507" width="1" height="41" fill="#151515"/>
<rect x="784" y="529" width="5" height="1" fill="#151515"/>
<rect x="792" y="506" width="1" height="24" fill="#151515"/>
<rect x="790" y="515" width="5" height="14" fill="#151515"/>
<rect x="791" y="516" width="3" height="12" fill="#2f8f78"/>
<rect x="798" y="513" width="1" height="20" fill="#151515"/>
<rect x="796" y="515" width="5" height="10" fill="#151515"/>
<rect x="797" y="516" width="3" height="8" fill="#c94f5b"/>
<rect x="804" y="521" width="1" height="19" fill="#151515"/>
<rect x="802" y="525" width="5" height="13" fill="#151515"/>
<rect x="803" y="526" width="3" height="11" fill="#c94f5b"/>
<rect x="810" y="532" width="1" height="26" fill="#151515"/>
<rect x="808" y="537" width="5" height="21" fill="#151515"/>
<rect x="809" y="538" width="3" height="19" fill="#c94f5b"/>
<rect x="816" y="547" width="1" height="13" fill="#151515"/>
<rect x="814" y="558" width="5" height="1" fill="#151515"/>
<rect x="822" y="543" width="1" height="17" fill="#151515"/>
<rect x="820" y="546" width="5" height="12" fill="#151515"/>
<rect x="821" y="547" width="3" height="10" fill="#2f8f78"/>
<rect x="828" y="536" width="1" height="14" fill="#151515"/>
<rect x="826" y="546" width="5" height="4" fill="#151515"/>
<rect x="827" y="547" width="3" height="2" fill="#c94f5b"/>
<rect x="834" y="515" width="1" height="35" fill="#151515"/>
<rect x="832" y="518" width="5" height="27" fill="#151515"/>
<rect x="833" y="519" width="3" height="25" fill="#2f8f78"/>
<rect x="840" y="500" width="1" height="22" fill="#151515"/>
<rect x="838" y="508" width="5" height="10" fill="#151515"/>
<rect x="839" y="509" width="3" height="8" fill="#2f8f78"/>
<rect x="846" y="475" width="1" height="40" fill="#151515"/>
<rect x="844" y="476" width="5" height="32" fill="#151515"/>
<rect x="845" y="477" width="3" height="30" fill="#2f8f78"/>
<rect x="852" y="475" width="1" height="13" fill="#151515"/>
<rect x="850" y="476" width="5" height="9" fill="#151515"/>
<rect x="851" y="477" width="3" height="7" fill="#c94f5b"/>
<rect x="858" y="467" width="1" height="51" fill="#151515"/>
<rect x="856" y="485" width="5" height="33" fill="#151515"/>
<rect x="857" y="486" width="3" height="31" fill="#c94f5b"/>
<rect x="864" y="494" width="1" height="27" fill="#151515"/>
<rect x="862" y="501" width="5" height="17" fill="#151515"/>
<rect x="863" y="502" width="3" height="15" fill="#2f8f78"/>
<rect x="870" y="486" width="1" height="19" fill="#151515"/>
<rect x="868" y="501" width="5" height="3" fill="#151515"/>
<rect x="869" y="502" width="3" height="1" fill="#c94f5b"/>
<rect x="876" y="495" width="1" height="15" fill="#151515"/>
<rect x="874" y="503" width="5" height="5" fill="#151515"/>
<rect x="875" y="504" width="3" height="3" fill="#c94f5b"/>
<rect x="882" y="497" width="1" height="15" fill="#151515"/>
<rect x="880" y="506" width="5" height="3" fill="#151515"/>
<rect x="881" y="507" width="3" height="1" fill="#2f8f78"/>
<rect x="888" y="498" width="1" height="10" fill="#151515"/>
<rect x="886" y="501" width="5" height="5" fill="#151515"/>
<rect x="887" y="502" width="3" height="3" fill="#2f8f78"/>
<rect x="895" y="481" width="1" height="26" fill="#151515"/>
<rect x="893" y="484" width="5" height="17" fill="#151515"/>
<rect x="894" y="485" width="3" height="15" fill="#2f8f78"/>
<rect x="901" y="483" width="1" height="24" fill="#151515"/>
<rect x="899" y="484" width="5" height="23" fill="#151515"/>
<rect x="900" y="485" width="3" height="21" fill="#c94f5b"/>
<rect x="907" y="503" width="1" height="17" fill="#151515"/>
<rect x="905" y="507" width="5" height="4" fill="#151515"/>
<rect x="906" y="508" width="3" height="2" fill="#c94f5b"/>
<rect x="913" y="496" width="1" height="20" fill="#151515"/>
<rect x="911" y="502" width="5" height="9" fill="#151515"/>
<rect x="912" y="503" width="3" height="7" fill="#2f8f78"/>
<rect x="919" y="500" width="1" height="11" fill="#151515"/>
<rect x="917" y="502" width="5" height="5" fill="#151515"/>
<rect x="918" y="503" width="3" height="3" fill="#c94f5b"/>
<rect x="925" y="500" width="1" height="10" fill="#151515"/>
<rect x="923" y="503" width="5" height="4" fill="#151515"/>
<rect x="924" y="504" width="3" height="2" fill="#2f8f78"/>
<rect x="931" y="498" width="1" height="13" fill="#151515"/>
<rect x="929" y="502" width="5" height="1" fill="#151515"/>
<rect x="937" y="495" width="1" height="23" fill="#151515"/>
<rect x="935" y="502" width="5" height="13" fill="#151515"/>
<rect x="936" y="503" width="3" height="11" fill="#c94f5b"/>
<rect x="943" y="496" width="1" height="22" fill="#151515"/>
<rect x="941" y="497" width="5" height="18" fill="#151515"/>
<rect x="942" y="498" width="3" height="16" fill="#2f8f78"/>
<rect x="949" y="491" width="1" height="37" fill="#151515"/>
<rect x="947" y="497" width="5" height="29" fill="#151515"/>
<rect x="948" y="498" width="3" height="27" fill="#c94f5b"/>
<rect x="955" y="503" width="1" height="27" fill="#151515"/>
<rect x="953" y="507" width="5" height="22" fill="#151515"/>
<rect x="954" y="508" width="3" height="20" fill="#2f8f78"/>
<rect x="961" y="503" width="1" height="16" fill="#151515"/>
<rect x="959" y="507" width="5" height="11" fill="#151515"/>
<rect x="960" y="508" width="3" height="9" fill="#c94f5b"/>
<rect x="967" y="501" width="1" height="21" fill="#151515"/>
<rect x="965" y="518" width="5" height="4" fill="#151515"/>
<rect x="966" y="519" width="3" height="2" fill="#c94f5b"/>
<rect x="973" y="518" width="1" height="12" fill="#151515"/>
<rect x="971" y="522" width="5" height="3" fill="#151515"/>
<rect x="972" y="523" width="3" height="1" fill="#c94f5b"/>
<rect x="979" y="516" width="1" height="17" fill="#151515"/>
<rect x="977" y="524" width="5" height="3" fill="#151515"/>
<rect x="978" y="525" width="3" height="1" fill="#c94f5b"/>
<rect x="985" y="523" width="1" height="10" fill="#151515"/>
<rect x="983" y="528" width="5" height="1" fill="#151515"/>
<rect x="991" y="508" width="1" height="20" fill="#151515"/>
<rect x="989" y="513" width="5" height="15" fill="#151515"/>
<rect x="990" y="514" width="3" height="13" fill="#2f8f78"/>
<rect x="997" y="504" width="1" height="14" fill="#151515"/>
<rect x="995" y="514" width="5" height="1" fill="#151515"/>
<rect x="1003" y="503" width="1" height="16" fill="#151515"/>
<rect x="1001" y="509" width="5" height="5" fill="#151515"/>
<rect x="1002" y="510" width="3" height="3" fill="#2f8f78"/>
<rect x="1009" y="508" width="1" height="35" fill="#151515"/>
<rect x="1007" y="509" width="5" height="28" fill="#151515"/>
<rect x="1008" y="510" width="3" height="26" fill="#c94f5b"/>
<rect x="1015" y="530" width="1" height="24" fill="#151515"/>
<rect x="1013" y="537" width="5" height="16" fill="#151515"/>
<rect x="1014" y="538" width="3" height="14" fill="#c94f5b"/>
<rect x="1021" y="536" width="1" height="22" fill="#151515"/>
<rect x="1019" y="541" width="5" height="12" fill="#151515"/>
<rect x="1020" y="542" width="3" height="10" fill="#2f8f78"/>
<rect x="1027" y="531" width="1" height="13" fill="#151515"/>
<rect x="1025" y="532" width="5" height="9" fill="#151515"/>
<rect x="1026" y="533" width="3" height="7" fill="#2f8f78"/>
<rect x="1033" y="526" width="1" height="20" fill="#151515"/>
<rect x="1031" y="532" width="5" height="12" fill="#151515"/>
<rect x="1032" y="533" width="3" height="10" fill="#c94f5b"/>
<rect x="1039" y="533" width="1" height="15" fill="#151515"/>
<rect x="1037" y="544" width="5" height="1" fill="#151515"/>
<rect x="1045" y="538" width="1" height="13" fill="#151515"/>
<rect x="1043" y="544" width="5" height="6" fill="#151515"/>
<rect x="1044" y="545" width="3" height="4" fill="#c94f5b"/>
</g>
</svg>
<div class="lg" style="left:61px;top:71px;width:86px;height:23px"></div>
<div class="lg" style="left:61px;top:94px;width:86px;height:24px"></div>
<div class="lg" style="left:61px;top:118px;width:75px;height:24px"></div>
<div class="abs" style="left:65px;top:145px;width:26px;height:19px;border:1px solid #e2e2e2;border-radius:3px;background:rgba(255,255,255,.7)"></div>
<div class="abs" style="left:71px;top:49px;width:40px;height:18px;border-radius:9px;background:linear-gradient(90deg,#d6efeb 0,#d6efeb 50%,#fadbe7 50%,#fadbe7 100%)"></div>
<div class="abs" style="left:78px;top:54px;width:8px;height:8px;border-radius:4px;background:#129a7f"></div>
<div class="pl" style="left:1173px;top:401px;width:56px;height:17px;background:#3024de;"></div>
<div class="pl" style="left:1173px;top:485px;width:56px;height:17px;background:#2a60ea;"></div>
<div class="pl" style="left:1173px;top:504px;width:56px;height:17px;background:#ee2c43;"></div>
<div class="pl" style="left:1173px;top:521px;width:56px;height:17px;background:#2a60ea;"></div>
<div class="pl" style="left:1173px;top:541px;width:59px;height:31px;background:#ee2c43;"></div>
<div class="pl" style="left:1173px;top:572.5px;width:56px;height:16.5px;background:#2a60ea;"></div>
<div class="pl" style="left:1173px;top:604px;width:52px;height:17px;background:#e5524f;"></div>
<svg class="abs" style="left:0;top:0" width="1287" height="731" viewBox="0 0 1287 731" fill="none" stroke="#131722" stroke-width="1.3" stroke-linecap="round" stroke-linejoin="round">
<circle cx="26" cy="18.7" r="13" fill="#a3735a" stroke="none"/>
<rect x="30.4" y="0.4" width="21.2" height="19" rx="9.5" fill="#fff" stroke="none"/>
<rect x="31.9" y="1.9" width="18.2" height="16" rx="8" fill="#e0334b" stroke="none"/>
<circle cx="69.6" cy="18" r="5.3" stroke-width="1.6"/><path d="M73.5 21.900L77.300 25.700" stroke-width="1.6"/>
<circle cx="170.4" cy="19.3" r="8.700" stroke-width="1.2"/><path d="M165.900 19.300H174.900M170.400 14.800V23.800" stroke-width="1.2"/>
<path d="M194 8V30" stroke="#e4e5e9" stroke-width="1"/>
<path d="M240.5 8V30" stroke="#e4e5e9" stroke-width="1"/>
<path d="M287.5 8V30" stroke="#e4e5e9" stroke-width="1"/>
<path d="M467.5 8V30" stroke="#e4e5e9" stroke-width="1"/>
<path d="M643 8V30" stroke="#e4e5e9" stroke-width="1"/>
<path d="M1052.5 8V30" stroke="#e4e5e9" stroke-width="1"/>
<path d="M260.5 9.5V12.5M260.5 25V28M268.5 12.5V15.5M268.5 22.5V25.5"/>
<rect x="258" y="12.3" width="5" height="12.7" rx="0.5"/><rect x="266.3" y="15.5" width="4.5" height="7" rx="0.5"/>
<path d="M303.8 27V23.9H307.6V27M307.6 23.9V21H311.6V27M311.6 22.9H315.7V27M315.7 22.9V17.9H319.3V27M303.8 27H319.3" stroke-width="1.2" stroke-linejoin="miter"/>
<path d="M303.3 16.5L308.3 11.7L312.6 15L319.8 10" stroke-width="1.2"/>
<path d="M408.900 17.400L412.600 20.800L416.300 17.400" stroke-width="1.100"/>
<path d="M1032.400 17.400L1036.100 20.800L1039.800 17.400" stroke-width="1.100"/>
<rect x="436" y="11.3" width="6.5" height="6.2" rx="1.5" stroke-width="1.2"/>
<rect x="445.5" y="11.3" width="6.5" height="6.2" rx="1.5" stroke-width="1.2"/>
<rect x="436" y="20.3" width="6.5" height="6.2" rx="1.5" stroke-width="1.2"/>
<rect x="445.5" y="20.3" width="6.5" height="6.2" rx="1.5" stroke-width="1.2"/>
<path d="M490.4 27.5A8.1 8.1 0 1 1 498.5 19.4" stroke-width="1.2"/>
<path d="M490.4 14.4V19.5H487.2" stroke-width="1.2"/>
<path d="M481.2 13.4L484.5 9.9M496.5 9.9L499.7 13.4" stroke-width="1.2"/>
<path d="M492.5 25.4H500.6M496.5 21.4V29.5" stroke-width="1.2"/>
<path d="M567.9 14.4L562.6 19.4L567.9 24.4ZM576.1 14.4L570.8 19.4L576.1 24.4Z" stroke-width="1.2"/>
<path d="M659.5 17.4H667A4.6 4.6 0 0 1 671.5 22V23.6M662.7 14.3L659.5 17.4L662.7 20.6" stroke-width="1.3"/>
<path d="M709.7 17.4H702A4.6 4.6 0 0 0 697.400 22V23.6M706.4 14.3L709.7 17.4L706.4 20.6" stroke="#a3a6af" stroke-width="1.3"/>
<rect x="926.3" y="11.3" width="18" height="15.7" rx="2.5" stroke-width="1.3"/>
<path d="M1080.500 14A7.200 7.200 0 1 1 1073.500 11.200" stroke-width="1.2"/><path d="M1080 23.800L1084.800 28.500" stroke-width="1.2"/>
<path d="M1078 8L1074 14.800H1077.500L1076.300 20.500L1081.700 12.800H1078.200L1079.800 8Z" stroke-width="1.2" fill="#fff"/>
<path d="M1109.3 10.5H1119.3L1124.3 19L1119.3 27.5H1109.3L1104.3 19Z" stroke-width="1.2"/><circle cx="1114.3" cy="19" r="3.6" stroke-width="1.2"/>
<path d="M1144.3 15.5V13.3A2 2 0 0 1 1146.3 11.3H1148.5M1156 11.3H1158.2A2 2 0 0 1 1160.2 13.3V15.5M1160.2 22.5V24.7A2 2 0 0 1 1158.2 26.7H1156M1148.5 26.7H1146.3A2 2 0 0 1 1144.3 24.7V22.5" stroke-width="1.3"/>
<path d="M1181.3 12.8H1185L1186.7 10.3H1192.8L1194.5 12.8H1197.800A2 2 0 0 1 1199.800 14.8V24A2 2 0 0 1 1197.800 26H1181.3A2 2 0 0 1 1179.3 24V14.8A2 2 0 0 1 1181.3 12.8Z" stroke-width="1.2"/><circle cx="1189.600" cy="19.3" r="3.8" stroke-width="1.2"/>
<rect x="1213.5" y="5" width="69.5" height="28" rx="14" fill="#2a2a2a" stroke="none"/>
<rect x="9.2" y="50.2" width="33.9" height="33.7" rx="6" fill="#ebebeb" stroke="none"/>
<path d="M19.5 59.8V72.4L23.4 70.1L26.6 75.5L29.6 74L26.8 68.100L30.1 66Z" stroke-width="1.2" stroke-linejoin="miter"/>
<path d="M18.6 111.7L33.1 98.2" stroke-width="1.2"/><circle cx="17.2" cy="113" r="1.9" stroke-width="1.1"/><circle cx="34.5" cy="96.9" r="1.9" stroke-width="1.1"/>
<path d="M15 133.500H37M15 139.500H34.500M15 145.500H37M17.500 151.500H37" stroke-width="1.2" stroke-linecap="butt"/><circle cx="36.200" cy="139.500" r="1.8" stroke-width="1.1" fill="#fff"/><circle cx="15.500" cy="151.500" r="1.8" stroke-width="1.1" fill="#fff"/>
<path d="M17.3 189L20.5 173L24.6 179.6L32.7 173L35 186.3L24.6 179.6L17.3 189" stroke-width="1.1"/>
<circle cx="17.3" cy="189" r="1.8" stroke-width="1.1" fill="#fff"/>
<circle cx="20.5" cy="173" r="1.8" stroke-width="1.1" fill="#fff"/>
<circle cx="24.6" cy="179.6" r="1.8" stroke-width="1.1" fill="#fff"/>
<circle cx="32.7" cy="173" r="1.8" stroke-width="1.1" fill="#fff"/>
<circle cx="35" cy="186.3" r="1.8" stroke-width="1.1" fill="#fff"/>
<path d="M18.300 211.500H35.800M18.300 221.500H32.500M18.300 227.500H35.800" stroke-width="1.2" stroke-linecap="butt"/><path d="M21 219.200L34.400 213" stroke-width="1.200" stroke-dasharray="0.1 2.800"/>
<circle cx="16.4" cy="211.5" r="1.8" stroke-width="1.1" fill="#fff"/>
<circle cx="16.4" cy="221.5" r="1.8" stroke-width="1.1" fill="#fff"/>
<circle cx="34.4" cy="221.5" r="1.8" stroke-width="1.1" fill="#fff"/>
<circle cx="16.4" cy="227.5" r="1.8" stroke-width="1.1" fill="#fff"/>
<path d="M14.8 265.400H24.2C27 265.400 29.600 262.800 29.400 259.600C29.200 256.800 27 255.300 24.500 255.300C22.500 255.300 21 256 20.300 257.300Z" stroke-width="1.2"/><path d="M30.200 249.600C28.600 250.300 28 251.900 28.900 253.400C30 255.200 32.300 255.700 33.800 254.600L39.200 249.700" stroke-width="1.2"/>
<path d="M19 290.5V287.2H34V290.5M26.5 287.2V303M24 303.3H29" stroke-width="1.2" stroke-linecap="butt"/>
<circle cx="25.7" cy="333" r="10.5" stroke-width="1.2"/><path d="M22.3 336.3A4.2 4.2 0 0 0 29.1 336.3" stroke-width="1.2"/><circle cx="23" cy="330.3" r="0.9" fill="#131722" stroke="none"/><circle cx="28.4" cy="330.3" r="0.9" fill="#131722" stroke="none"/>
<path d="M8.5 358.4H43.5" stroke="#e4e5e9" stroke-width="1" stroke-linecap="butt"/>
<path d="M8.5 447.4H43.5" stroke="#e4e5e9" stroke-width="1" stroke-linecap="butt"/>
<path d="M8.5 612.3H43.5" stroke="#e4e5e9" stroke-width="1" stroke-linecap="butt"/>
<g transform="translate(26 384.2) rotate(-39.8)"><rect x="-12.5" y="-3.8" width="25" height="7.6" rx="0.8" stroke-width="1.2"/><path d="M-8.5 -3.8V-0.400M-4.5 -3.8V-0.400M-0.5 -3.8V-0.400M3.5 -3.8V-0.400M7.5 -3.8V-0.400" stroke-width="1" stroke-linecap="butt"/></g>
<circle cx="24.6" cy="420.5" r="8" stroke-width="1.2"/><path d="M30.5 426.5L34 430" stroke-width="1.2"/><path d="M21 420.5H28.2M24.6 417V424" stroke-width="1.2"/>
<path d="M19.200 481V471A7.100 7.100 0 0 1 33.400 471V481H28.800V471.300A2.500 2.500 0 0 0 23.800 471.300V481ZM19.200 477.300H23.800M28.800 477.300H33.400" stroke-width="1.2"/>
<path d="M15.600 516V513.200L26.300 502.500A1.800 1.800 0 0 1 28.800 502.500L30 503.700A1.800 1.800 0 0 1 30 506.200L19.300 516ZM24.300 504.300L28.200 508" stroke-width="1.2"/>
<rect x="27.8" y="514.3" width="7.6" height="6.4" rx="1" stroke-width="1.2" fill="#fff"/><path d="M29.7 514.3V512.3A2 2 0 0 1 33.6 511.8" stroke-width="1.2"/><circle cx="31.6" cy="517.5" r="0.8" fill="#131722" stroke="none"/>
<rect x="19.200" y="547.800" width="14.200" height="10.300" rx="2" stroke-width="1.3"/><path d="M22.800 547.800V544.300A3.600 3.600 0 0 1 29.900 543.500" stroke-width="1.3"/><path d="M26.200 551.700V554.200" stroke-width="1.700" stroke-linecap="butt"/>
<path d="M15.8 583.3C18 579 21.5 576.8 25 576.8C28.5 576.8 32 579 34.2 583.3C32 587.6 28.5 589.8 25 589.8C21.5 589.8 18 587.6 15.8 583.3Z" stroke-width="1.2"/><circle cx="25" cy="583.3" r="3.2" stroke-width="1.2"/>
<g transform="translate(20.460 491.600) scale(0.4)"><path d="M14.8 265.400H24.2C27 265.400 29.600 262.800 29.400 259.600C29.200 256.800 27 255.300 24.500 255.300C22.500 255.300 21 256 20.300 257.300Z" stroke-width="2.600"/><path d="M30.200 249.600C28.600 250.300 28 251.900 28.900 253.400C30 255.200 32.300 255.700 33.800 254.600L39.200 249.700" stroke-width="2.600"/></g>
<path d="M17.5 631.500H34.5M22.5 631.500V629.600A1 1 0 0 1 23.5 628.600H28.5A1 1 0 0 1 29.5 629.600V631.500M19.3 631.500L20.5 646.2A1.5 1.5 0 0 0 22 647.5H30A1.5 1.5 0 0 0 31.5 646.2L32.7 631.500" stroke-width="1.2"/>
<path d="M1255.5 55.8H1274V77L1264.8 73.3L1255.5 77Z" stroke-width="1.2" stroke-linejoin="miter"/><path d="M1259 60.5H1270.5M1259 64.3H1270.5M1259 68H1270.5" stroke-width="1.1" stroke-linecap="butt"/>
<circle cx="1265" cy="111.800" r="10.500" stroke-width="1.2"/><path d="M1266 106.500V113.400H1260.500" stroke-width="1.2"/><path d="M1252.600 104.200L1257.700 99.700M1277.400 104.200L1272.300 99.700" stroke-width="1.2"/>
<path d="M1264.7 148.7L1276 154.5L1264.7 160.3L1253.4 154.5Z" stroke-width="1.2"/><path d="M1253.5 160.6L1264.7 166.800L1276 160.600" stroke-width="1.2"/>
<path d="M1255.5 193.600H1270.700A2 2 0 0 1 1272.700 195.600V206.300A2 2 0 0 1 1270.700 208.300H1257.500L1253.700 212.300V195.400A1.800 1.800 0 0 1 1255.500 193.600Z" stroke-width="1.2"/><path d="M1272.700 201.300H1274.600A2 2 0 0 1 1276.600 203.300V216.400L1273 212.400H1264.500A2.200 2.200 0 0 1 1262.300 210.200V208.300" stroke-width="1.2"/>
<circle cx="1265" cy="512.3" r="13.3" stroke-width="1.2"/><circle cx="1265" cy="512.3" r="7.5" stroke-width="1.2"/><circle cx="1265" cy="512.3" r="2.2" fill="#131722" stroke="none"/><path d="M1265 512.3L1274.300 502.600" stroke-width="1.2"/>
<rect x="1254" y="548.8" width="22.4" height="20.400" rx="3" stroke-width="1.3"/><path d="M1254 555.3H1276.400" stroke-width="1.2"/><path d="M1257.600 546.8V551.7H1260.300V546.8ZM1269.800 546.8V551.7H1272.500V546.8Z" stroke-width="1.1" fill="#fff"/>
<circle cx="1265" cy="604" r="17" fill="#262626" stroke="none"/>
<rect x="1255.8" y="594.8" width="4.4" height="4.4" rx=".7" fill="#fff" stroke="none"/>
<rect x="1255.8" y="601.9" width="4.4" height="4.4" rx=".7" fill="#fff" stroke="none"/>
<rect x="1255.8" y="609" width="4.4" height="4.4" rx=".7" fill="#fff" stroke="none"/>
<rect x="1262.9" y="594.8" width="4.4" height="4.4" rx=".7" fill="#fff" stroke="none"/>
<rect x="1262.9" y="601.9" width="4.4" height="4.4" rx=".7" fill="#fff" stroke="none"/>
<rect x="1262.9" y="609" width="4.4" height="4.4" rx=".7" fill="#fff" stroke="none"/>
<rect x="1270" y="594.8" width="4.4" height="4.4" rx=".7" fill="#fff" stroke="none"/>
<rect x="1270" y="601.9" width="4.4" height="4.4" rx=".7" fill="#fff" stroke="none"/>
<rect x="1270" y="609" width="4.4" height="4.4" rx=".7" fill="#fff" stroke="none"/>
<path d="M1248.500 631.700H1282" stroke="#e4e5e9" stroke-width="1" stroke-linecap="butt"/>
<circle cx="1256.500" cy="668.300" r="1.6" stroke-width="1.1"/><path d="M1255.300 661.500A8 8 0 0 1 1263.300 669.500M1255.300 655.500A14 14 0 0 1 1269.300 669.500M1255.300 649.500A20 20 0 0 1 1275.300 669.500" stroke-width="1.2"/>
<path d="M1272.500 694.700A13.5 13.5 0 1 0 1276.800 700.500" stroke-width="1.2"/><path d="M1257.500 718A13.5 13.5 0 0 0 1277.800 708" stroke-width="1.200"/>
<path d="M1261.300 702.300A3.600 3.600 0 1 1 1266.800 705.300C1265.500 706.200 1264.800 707 1264.800 708.800" stroke-width="1.2"/><circle cx="1264.800" cy="712.300" r="1" stroke-width="1"/>
<path d="M1276.300 692.300L1277.500 695.300L1280.300 696.500L1277.500 697.700L1276.300 700.700L1275.100 697.700L1272.300 696.500L1275.100 695.300Z" stroke-width="1" fill="#fff"/>
<path d="M1253.300 711.500L1254.300 713.800L1256.500 714.700L1254.300 715.600L1253.300 718L1252.300 715.600L1250 714.700L1252.300 713.800Z" stroke-width="1" fill="#fff"/>
<path d="M95.500 56.300C97 54.800 98.500 54.800 100 56C101.500 57.200 103 57.200 104.500 55.700M95.500 60.500C97 59 98.500 59 100 60.200C101.500 61.400 103 61.400 104.500 59.900" stroke="#d6338a" stroke-width="1.400"/>
<path d="M74.500 158L78.500 154L82.500 158" stroke-width="1.500"/>
<path d="M1202 630.800H1209L1212.500 636.900L1209 643H1202L1198.500 636.900Z" stroke-width="1.2"/><circle cx="1205.500" cy="636.900" r="2.300" stroke-width="1.2"/>
<path d="M56 650.500H1238" stroke="#ecedf0" stroke-width="1" stroke-linecap="butt"/>
<path d="M332.500 659V682" stroke="#e4e5e9" stroke-width="1" stroke-linecap="butt"/>
<path d="M348.300 672.500V666A2.300 2.300 0 0 1 350.600 663.700H362.400A2.300 2.300 0 0 1 364.700 666V675.700A2.300 2.300 0 0 1 362.400 678H357M348.300 668.300H364.700M352.500 661.300V665.500M360.500 661.300V665.500" stroke-width="1.2"/><path d="M346.500 675.300H354.500M351.700 672.300L354.700 675.300L351.700 678.300" stroke-width="1.2"/>
<path d="M1175.300 713.900L1183.600 707.600L1192 713.900" stroke-width="1.150"/>
<path d="M1211.300 709V707A2.500 2.500 0 0 1 1213.800 704.500H1224A2.500 2.500 0 0 1 1226.500 707V709M1226.500 714.500V716.500A2.500 2.500 0 0 1 1224 719H1213.800A2.500 2.500 0 0 1 1211.300 716.500V714.500" stroke-width="1.3"/>
<circle cx="1057.8" cy="608.9" r="10" fill="#fff" stroke="#cf4a55" stroke-width="1.4"/>
<g stroke="none" fill="#e0666e"><rect x="1060.5" y="602.5" width="5" height="1.6"/><rect x="1061" y="605.7" width="5.5" height="1.6"/><rect x="1061" y="608.9" width="5.5" height="1.6"/><rect x="1061" y="612.1" width="5" height="1.6"/><rect x="1060" y="615.3" width="3.5" height="1.4"/></g>
<circle cx="1057.8" cy="608.9" r="7.6" stroke="#cf4a55" stroke-width="1" />
<circle cx="1050.3" cy="608.9" r="10" fill="#fff" stroke="#cf4a55" stroke-width="1.4"/>
<clipPath id="fc"><circle cx="1050.3" cy="608.9" r="7.6"/></clipPath>
<g stroke="none" clip-path="url(#fc)"><rect x="1042" y="600" width="17" height="18" fill="#fff"/><rect x="1042" y="601.3" width="17" height="1.7" fill="#d9606a"/><rect x="1042" y="604.7" width="17" height="1.7" fill="#d9606a"/><rect x="1042" y="608.1" width="17" height="1.7" fill="#d9606a"/><rect x="1042" y="611.5" width="17" height="1.7" fill="#e9a9ae"/><rect x="1042" y="613.7" width="17" height="2.2" fill="#d9505a"/><rect x="1042" y="600" width="10.3" height="9.6" fill="#3f7fd6"/><g fill="#dfeafb"><rect x="1044.3" y="602.3" width="1.2" height="1"/><rect x="1046.8" y="602.3" width="1.2" height="1"/><rect x="1049.3" y="602.3" width="1.2" height="1"/><rect x="1044.3" y="604.9" width="1.2" height="1"/><rect x="1046.8" y="604.9" width="1.2" height="1"/><rect x="1049.3" y="604.9" width="1.2" height="1"/><rect x="1044.3" y="607.5" width="1.2" height="1"/><rect x="1046.8" y="607.5" width="1.2" height="1"/><rect x="1049.3" y="607.5" width="1.2" height="1"/></g></g>
<circle cx="-5" cy="736" r="9" stroke="#a23bb0" stroke-width="2"/><circle cx="1292" cy="736" r="9" stroke="#a23bb0" stroke-width="2"/>
<g stroke="#fff" stroke-width="3" fill="#fff" stroke-linejoin="round"><path d="M68 593.1H80.7V607.7H73.6V599H68ZM92.4 607.7H85.2L89.7 593.1H97.8Z"/><circle cx="84.9" cy="595.9" r="2.8"/></g>
<g stroke="none" fill="#131313"><path d="M68 593.1H80.7V607.7H73.6V599H68ZM92.4 607.7H85.2L89.7 593.1H97.8Z"/><circle cx="84.9" cy="595.9" r="2.8"/></g>
</svg>
<div class="t" style="left:20.5px;top:7.8px;font-size:18px;line-height:22px;color:#fff;font-weight:bold;transform:scaleX(1.0000);transform-origin:0 50%;">T</div>
<div class="t" style="left:35.7px;top:2.8px;font-size:9.5px;line-height:13.5px;color:#fff;font-weight:bold;transform:scaleX(1.0000);transform-origin:0 50%;">11</div>
<div class="t" style="left:84.0px;top:10.2px;font-size:13.5px;line-height:17.5px;color:#131722;font-weight:bold;transform:scaleX(0.9066);transform-origin:0 50%;">USDCHF</div>
<div class="t" style="left:213.0px;top:10.0px;font-size:14px;line-height:18px;color:#131722;">D</div>
<div class="t" style="left:329.5px;top:10.0px;font-size:14px;line-height:18px;color:#131722;letter-spacing:0.09px;">Indicators</div>
<div class="t" style="left:509.0px;top:10.0px;font-size:14px;line-height:18px;color:#131722;letter-spacing:0.43px;">Alert</div>
<div class="t" style="left:587.0px;top:10.0px;font-size:14px;line-height:18px;color:#131722;transform:scaleX(0.9293);transform-origin:0 50%;">Replay</div>
<div class="t" style="left:960.0px;top:5.2px;font-size:13.5px;line-height:17.5px;color:#131722;transform:scaleX(0.9909);transform-origin:0 50%;">Unnamed</div>
<div class="t" style="left:979.0px;top:20.0px;font-size:10px;line-height:14px;color:#3b5ea8;transform:scaleX(0.8994);transform-origin:0 50%;">Save</div>
<div class="t" style="left:1225.0px;top:10.0px;font-size:14px;line-height:18px;color:#fff;font-weight:bold;transform:scaleX(0.9099);transform-origin:0 50%;">Publish</div>
<div class="t" style="left:127.5px;top:50.7px;font-size:12px;line-height:16px;color:#131722;letter-spacing:0.26px;">O0.79575</div>
<div class="t" style="left:188.7px;top:50.7px;font-size:12px;line-height:16px;color:#131722;letter-spacing:0.32px;">H0.79727</div>
<div class="t" style="left:250.0px;top:50.7px;font-size:12px;line-height:16px;color:#131722;letter-spacing:0.35px;">L0.79362</div>
<div class="t" style="left:308.7px;top:50.7px;font-size:12px;line-height:16px;color:#131722;letter-spacing:0.18px;">C0.79441</div>
<div class="t" style="left:370.0px;top:50.7px;font-size:12px;line-height:16px;color:#131722;letter-spacing:0.09px;">−0.00134</div>
<div class="t" style="left:427.0px;top:50.7px;font-size:12px;line-height:16px;color:#131722;transform:scaleX(0.9689);transform-origin:0 50%;">(−0.17%)</div>
<div class="t" style="left:65.5px;top:75.2px;font-size:11.5px;line-height:15.5px;color:#131722;transform:scaleX(0.9229);transform-origin:0 50%;">EMA</div>
<div class="t" style="left:97.0px;top:75.0px;font-size:12px;line-height:16px;color:#c9626c;letter-spacing:0.27px;">0.80382</div>
<div class="t" style="left:65.5px;top:99.2px;font-size:11.5px;line-height:15.5px;color:#131722;transform:scaleX(0.9229);transform-origin:0 50%;">EMA</div>
<div class="t" style="left:97.0px;top:99.0px;font-size:12px;line-height:16px;color:#4a4aad;letter-spacing:0.27px;">0.83338</div>
<div class="t" style="left:65.5px;top:123.0px;font-size:12px;line-height:16px;color:#131722;transform:scaleX(0.9891);transform-origin:0 50%;">Vol</div>
<div class="t" style="left:91.0px;top:123.0px;font-size:12px;line-height:16px;color:#e08080;letter-spacing:0.39px;">88.53K</div>
<div class="t" style="left:1181.0px;top:55.0px;font-size:12px;line-height:16px;color:#131722;transform:scaleX(0.9683);transform-origin:0 50%;">0.93000</div>
<div class="t" style="left:1181.0px;top:91.0px;font-size:12px;line-height:16px;color:#131722;transform:scaleX(0.9683);transform-origin:0 50%;">0.92000</div>
<div class="t" style="left:1181.0px;top:127.0px;font-size:12px;line-height:16px;color:#131722;transform:scaleX(0.9683);transform-origin:0 50%;">0.91000</div>
<div class="t" style="left:1181.0px;top:163.0px;font-size:12px;line-height:16px;color:#131722;transform:scaleX(0.9683);transform-origin:0 50%;">0.90000</div>
<div class="t" style="left:1181.0px;top:199.0px;font-size:12px;line-height:16px;color:#131722;transform:scaleX(0.9683);transform-origin:0 50%;">0.89000</div>
<div class="t" style="left:1181.0px;top:234.0px;font-size:12px;line-height:16px;color:#131722;transform:scaleX(0.9683);transform-origin:0 50%;">0.88000</div>
<div class="t" style="left:1181.0px;top:270.0px;font-size:12px;line-height:16px;color:#131722;transform:scaleX(0.9683);transform-origin:0 50%;">0.87000</div>
<div class="t" style="left:1181.0px;top:306.0px;font-size:12px;line-height:16px;color:#131722;transform:scaleX(0.9683);transform-origin:0 50%;">0.86000</div>
<div class="t" style="left:1181.0px;top:342.0px;font-size:12px;line-height:16px;color:#131722;transform:scaleX(0.9683);transform-origin:0 50%;">0.85000</div>
<div class="t" style="left:1181.0px;top:378.0px;font-size:12px;line-height:16px;color:#131722;transform:scaleX(0.9683);transform-origin:0 50%;">0.84000</div>
<div class="t" style="left:1181.0px;top:413.5px;font-size:12px;line-height:16px;color:#131722;transform:scaleX(0.9683);transform-origin:0 50%;">0.83000</div>
<div class="t" style="left:1181.0px;top:449.0px;font-size:12px;line-height:16px;color:#131722;transform:scaleX(0.9683);transform-origin:0 50%;">0.82000</div>
<div class="t" style="left:1181.0px;top:592.5px;font-size:12px;line-height:16px;color:#131722;transform:scaleX(0.9683);transform-origin:0 50%;">0.78000</div>
<div class="t" style="left:72.2px;top:628.0px;font-size:12px;line-height:16px;color:#131722;transform:scaleX(1.0000);transform-origin:0 50%;-webkit-text-stroke:.35px #131722;">Feb</div>
<div class="t" style="left:192.7px;top:628.0px;font-size:12px;line-height:16px;color:#131722;-webkit-text-stroke:.35px #131722;">Mar</div>
<div class="t" style="left:319.7px;top:628.0px;font-size:12px;line-height:16px;color:#131722;transform:scaleX(1.0000);transform-origin:0 50%;-webkit-text-stroke:.35px #131722;">Apr</div>
<div class="t" style="left:449.7px;top:628.0px;font-size:12px;line-height:16px;color:#131722;-webkit-text-stroke:.35px #131722;">May</div>
<div class="t" style="left:584.3px;top:628.0px;font-size:12px;line-height:16px;color:#131722;transform:scaleX(1.0000);transform-origin:0 50%;-webkit-text-stroke:.35px #131722;">Jun</div>
<div class="t" style="left:712.3px;top:628.0px;font-size:12px;line-height:16px;color:#131722;transform:scaleX(1.0000);transform-origin:0 50%;-webkit-text-stroke:.35px #131722;">Jul</div>
<div class="t" style="left:847.3px;top:628.0px;font-size:12px;line-height:16px;color:#131722;-webkit-text-stroke:.35px #131722;">Aug</div>
<div class="t" style="left:974.3px;top:628.0px;font-size:12px;line-height:16px;color:#131722;-webkit-text-stroke:.35px #131722;">Sep</div>
<div class="t" style="left:1107.7px;top:628.0px;font-size:12px;line-height:16px;color:#131722;transform:scaleX(1.0000);transform-origin:0 50%;-webkit-text-stroke:.35px #131722;">Oct</div>
<div class="t" style="left:71.0px;top:660.8px;font-size:14px;line-height:18px;color:#131722;transform:scaleX(0.8381);transform-origin:0 50%;">1D</div>
<div class="t" style="left:98.5px;top:660.8px;font-size:14px;line-height:18px;color:#131722;transform:scaleX(0.8381);transform-origin:0 50%;">5D</div>
<div class="t" style="left:127.0px;top:660.8px;font-size:14px;line-height:18px;color:#131722;transform:scaleX(0.8484);transform-origin:0 50%;">1M</div>
<div class="t" style="left:155.5px;top:660.8px;font-size:14px;line-height:18px;color:#131722;transform:scaleX(0.8741);transform-origin:0 50%;">3M</div>
<div class="t" style="left:184.5px;top:660.8px;font-size:14px;line-height:18px;color:#131722;transform:scaleX(0.8741);transform-origin:0 50%;">6M</div>
<div class="t" style="left:214.0px;top:660.8px;font-size:14px;line-height:18px;color:#131722;transform:scaleX(0.8750);transform-origin:0 50%;">YTD</div>
<div class="t" style="left:251.0px;top:660.8px;font-size:14px;line-height:18px;color:#131722;transform:scaleX(0.8760);transform-origin:0 50%;">1Y</div>
<div class="t" style="left:278.0px;top:660.8px;font-size:14px;line-height:18px;color:#131722;transform:scaleX(0.8760);transform-origin:0 50%;">5Y</div>
<div class="t" style="left:305.0px;top:660.8px;font-size:14px;line-height:18px;color:#131722;letter-spacing:0.22px;">All</div>
<div class="t" style="left:1144.5px;top:661.0px;font-size:14px;line-height:18px;color:#131722;transform:scaleX(0.9466);transform-origin:0 50%;">16:23:28 UTC</div>
<div class="t" style="left:72.0px;top:702.8px;font-size:14.5px;line-height:18.5px;color:#131722;transform:scaleX(0.9658);transform-origin:0 50%;">Pine Editor</div>
<div class="t" style="left:172.0px;top:702.8px;font-size:14.5px;line-height:18.5px;color:#131722;transform:scaleX(0.9769);transform-origin:0 50%;">Strategy Tester</div>
<div class="t" style="left:299.0px;top:702.8px;font-size:14.5px;line-height:18.5px;color:#131722;transform:scaleX(0.9433);transform-origin:0 50%;">Replay Trading</div>
<div class="t" style="left:422.0px;top:702.8px;font-size:14.5px;line-height:18.5px;color:#131722;transform:scaleX(0.9416);transform-origin:0 50%;">Trading Panel</div>
<div class="t" style="left:1181.0px;top:401.5px;font-size:12px;line-height:16px;color:#fff;font-weight:bold;transform:scaleX(0.9683);transform-origin:0 50%;">0.83338</div>
<div class="t" style="left:1181.0px;top:485.5px;font-size:12px;line-height:16px;color:#fff;font-weight:bold;transform:scaleX(0.9683);transform-origin:0 50%;">0.81000</div>
<div class="t" style="left:1181.0px;top:504.5px;font-size:12px;line-height:16px;color:#fff;font-weight:bold;transform:scaleX(0.9683);transform-origin:0 50%;">0.80382</div>
<div class="t" style="left:1181.0px;top:521.5px;font-size:12px;line-height:16px;color:#fff;font-weight:bold;transform:scaleX(0.9683);transform-origin:0 50%;">0.80000</div>
<div class="t" style="left:1181.0px;top:541.5px;font-size:12px;line-height:16px;color:#fff;font-weight:bold;transform:scaleX(0.9568);transform-origin:0 50%;">0.79441</div>
<div class="t" style="left:1181.0px;top:556.5px;font-size:12px;line-height:16px;color:#fbbcc4;font-weight:bold;transform:scaleX(0.9472);transform-origin:0 50%;">04:36:31</div>
<div class="t" style="left:1181.0px;top:572.5px;font-size:12px;line-height:16px;color:#fff;font-weight:bold;transform:scaleX(0.9683);transform-origin:0 50%;">0.79000</div>
<div class="t" style="left:1181.0px;top:604.5px;font-size:12px;line-height:16px;color:#fff;font-weight:bold;transform:scaleX(0.9280);transform-origin:0 50%;">88.53 K</div>
<div class="t" style="left:105px;top:588.6px;font-size:20px;line-height:24px;font-weight:bold;color:#131313;letter-spacing:0.33px;-webkit-text-stroke:4px #fff">TradingView</div>
<div class="t" style="left:105px;top:588.6px;font-size:20px;line-height:24px;font-weight:bold;color:#131313;letter-spacing:0.33px;">TradingView</div>
</body></html>
